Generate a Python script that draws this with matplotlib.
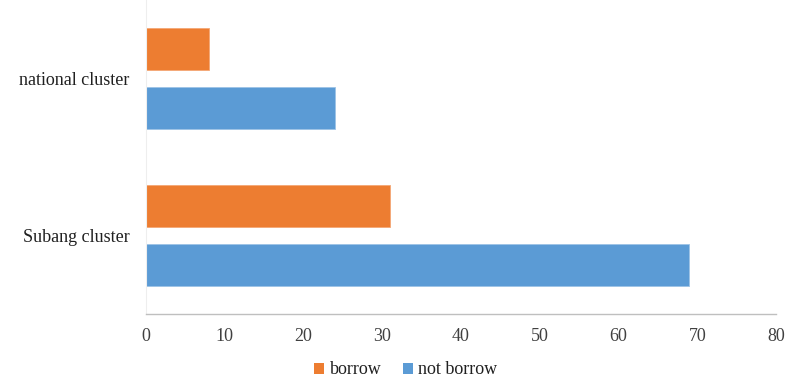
import matplotlib
matplotlib.use("Agg")
import matplotlib.pyplot as plt
import numpy as np
from matplotlib.patches import Patch

categories = ["Subang cluster", "national cluster"]
borrow = [31, 8]
not_borrow = [69, 24]
x_ticks = [0, 10, 20, 30, 40, 50, 60, 70, 80]

plt.rcParams['font.family'] = ['Liberation Serif', 'DejaVu Serif']

fig = plt.figure(figsize=(7.86, 3.81), dpi=100)
ax = fig.add_axes([146/786, (381-314)/381, (776-146)/786, 314/381])

y = np.arange(len(categories))
h = 0.265
off = 0.187
c_or = "#ED7D31"
c_bl = "#5B9BD5"
ax.barh(y + off, borrow, height=h, color=c_or, edgecolor="#F4A775", linewidth=0.6, label="borrow")
ax.barh(y - off, not_borrow, height=h, color=c_bl, edgecolor="#9DC3E6", linewidth=0.6, label="not borrow")

ax.set_xlim(0, 80)
ax.set_ylim(-0.5, 1.5)
ax.set_xticks(x_ticks)
ax.set_xticklabels([str(t) for t in x_ticks], fontsize=13, color="#404040")
ax.set_yticks(y)
ax.set_yticklabels(categories, fontsize=13, color="#202020")
ax.tick_params(axis='x', length=0, pad=10)
ax.tick_params(axis='y', length=0, pad=12)

for s in ["top", "right"]:
    ax.spines[s].set_visible(False)
ax.spines["bottom"].set_color("#BFBFBF")
ax.spines["bottom"].set_linewidth(1.0)
ax.spines["left"].set_color("#EEEEEE")
ax.spines["left"].set_linewidth(0.8)

handles = [Patch(facecolor=c_or, label="borrow"), Patch(facecolor=c_bl, label="not borrow")]
fig.legend(handles=handles, loc="center", bbox_to_anchor=(406/786, 1 - 370/381), ncol=2,
           frameon=False, fontsize=13, handlelength=0.55, handleheight=0.55,
           handletextpad=0.3, columnspacing=1.2, labelcolor="#202020")

fig.savefig("out.png", dpi=100)
